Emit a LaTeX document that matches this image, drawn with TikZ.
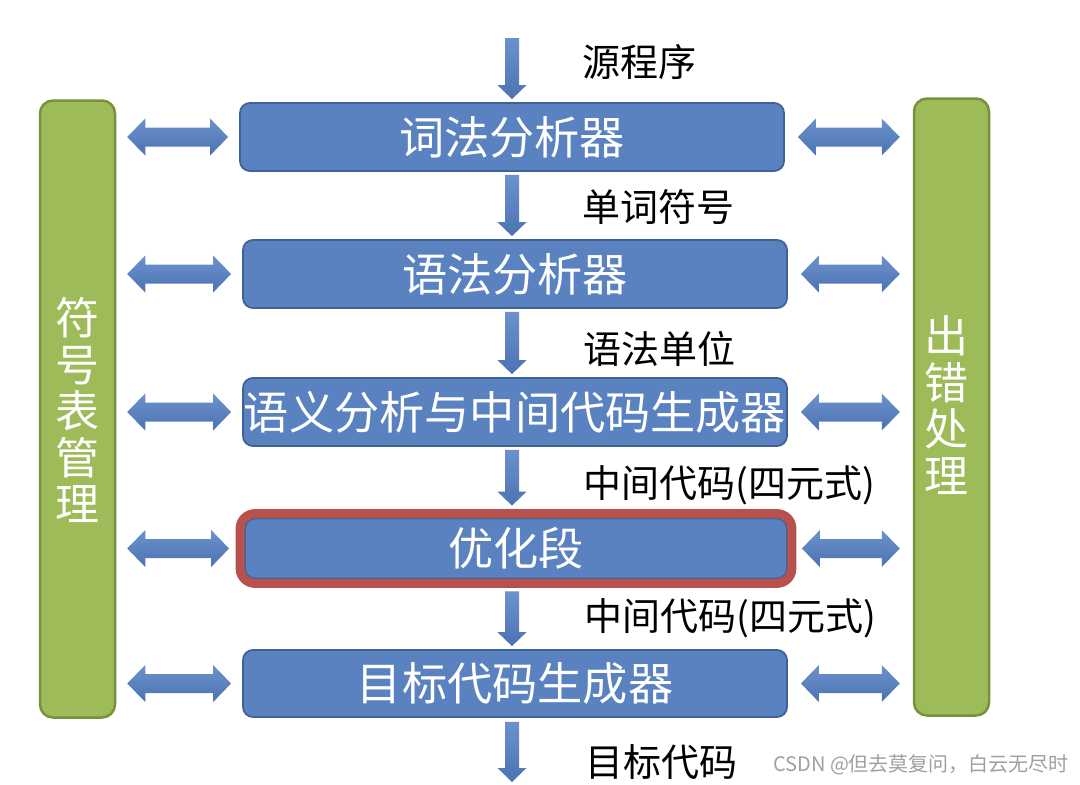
\documentclass[tikz,border=0pt]{standalone}
\usepackage{fontspec}
\newfontfamily\cjk{Noto Sans CJK SC}
\usetikzlibrary{calc}
\definecolor{boxblue}{RGB}{90,130,192}
\definecolor{boxedge}{RGB}{65,98,150}
\definecolor{arrtop}{RGB}{108,146,205}
\definecolor{arrbot}{RGB}{76,115,178}
\definecolor{barfill}{RGB}{157,187,88}
\definecolor{baredge}{RGB}{120,146,60}
\definecolor{optred}{RGB}{184,80,77}
\definecolor{wmgray}{RGB}{160,160,160}
\newcommand\vblk[2]{%
  \path[blk] ($(#1)+(-7,0)$) -- ($(#2)+(-7,-14)$) -- ($(#2)+(-14.5,-14)$) -- (#2)
    -- ($(#2)+(14.5,-14)$) -- ($(#2)+(7,-14)$) -- ($(#1)+(7,0)$) -- cycle;}
\newcommand\hblk[2]{%
  \path[blk] (#1) -- ($(#1)+(18,-18.5)$) -- ($(#1)+(18,-9.5)$) -- ($(#2)+(-18,-9.5)$)
    -- ($(#2)+(-18,-18.5)$) -- (#2) -- ($(#2)+(-18,18.5)$) -- ($(#2)+(-18,9.5)$)
    -- ($(#1)+(18,9.5)$) -- ($(#1)+(18,18.5)$) -- cycle;}
\begin{document}
\begin{tikzpicture}[x=1pt,y=-1pt,
  stage/.style={draw=boxedge, line width=1.8pt, fill=boxblue, rounded corners=10pt,
    minimum width=544pt, minimum height=68pt, text=white, inner sep=0pt,
    font=\cjk\fontsize{45.2}{50}\selectfont},
  sidebar/.style={draw=baredge, line width=2.5pt, fill=barfill, rounded corners=13pt,
    minimum width=75pt, minimum height=617pt, inner sep=0pt},
  sidetext/.style={text=white, align=center, inner sep=0pt,
    font=\cjk\fontsize{44}{46.5}\selectfont},
  lbl/.style={anchor=west, inner sep=0pt, font=\cjk\fontsize{38}{40}\selectfont},
  blk/.style={top color=arrtop, bottom color=arrbot, draw=none},
]
\fill[white] (0,0) rectangle (1080,785);
\useasboundingbox (0,0) rectangle (1080,785);

% side bars
\node[sidebar] (lbar) at (77.5,409) {};
\node[sidebar] (rbar) at (951.5,407) {};
\node[sidetext] (ltext) at (77,410) {符\\号\\表\\管\\理};
\node[sidetext] (rtext) at (946,405) {出\\错\\处\\理};

% stages
\node[stage] (b1) at (512,137) {词法分析器};
\node[stage] (b2) at (515,274) {语法分析器};
\node[stage] (b3) at (515,412) {语义分析与中间代码生成器};
\node[stage, minimum width=542pt, minimum height=60pt] (b4) at (516,548.5) {优化段};
\draw[optred, line width=9pt, rounded corners=15pt]
  ($(b4.north west)+(-4,-4)$) rectangle ($(b4.south east)+(4,4)$);
\node[stage, minimum height=67pt] (b5) at (515,683.5) {目标代码生成器};

% vertical flow arrows
\coordinate (s0) at (512,38);
\coordinate (e0) at ($(b1.north -| s0)+(0,-3)$);
\coordinate (s1) at ($(b1.south -| s0)+(0,3)$);
\coordinate (e1) at ($(b2.north -| s0)+(0,-3)$);
\coordinate (s2) at ($(b2.south -| s0)+(0,3)$);
\coordinate (e2) at ($(b3.north -| s0)+(0,-3)$);
\coordinate (s3) at ($(b3.south -| s0)+(0,3)$);
\coordinate (e3) at ($(b4.north -| s0)+(0,-12)$);
\coordinate (s4) at ($(b4.south -| s0)+(0,12)$);
\coordinate (e4) at ($(b5.north -| s0)+(0,-3)$);
\coordinate (s5) at ($(b5.south -| s0)+(0,4)$);
\coordinate (e5) at (512,782);
\vblk{s0}{e0}
\vblk{s1}{e1}
\vblk{s2}{e2}
\vblk{s3}{e3}
\vblk{s4}{e4}
\vblk{s5}{e5}

% horizontal double arrows
\foreach \b/\ld/\rd in {b1/11/13, b2/11/13, b3/11/13, b4/15/14, b5/11/13}{
  \coordinate (L1) at ($(lbar.east |- \b.west)+(11,0)$);
  \coordinate (L2) at ($(\b.west)+(-\ld,0)$);
  \coordinate (R1) at ($(\b.east)+(\rd,0)$);
  \coordinate (R2) at ($(rbar.west |- \b.east)+(-13,0)$);
  \hblk{L1}{L2}
  \hblk{R1}{R2}
}

% labels
\node[lbl] (l0) at (582,62) {源程序};
\node[lbl] (l1) at (582,207) {单词符号};
\node[lbl] (l2) at (583,349) {语法单位};
\node[lbl] (l3) at (583,485) {中间代码(四元式)};
\node[lbl] (l4) at (584,618) {中间代码(四元式)};
\node[lbl] (l5) at (585,762) {目标代码};

% watermark
\node[anchor=west, inner sep=0pt, text=wmgray, font=\cjk\fontsize{20}{22}\selectfont] (wm) at (773,765) {CSDN @但去莫复问，白云无尽时};
\end{tikzpicture}
\end{document}
